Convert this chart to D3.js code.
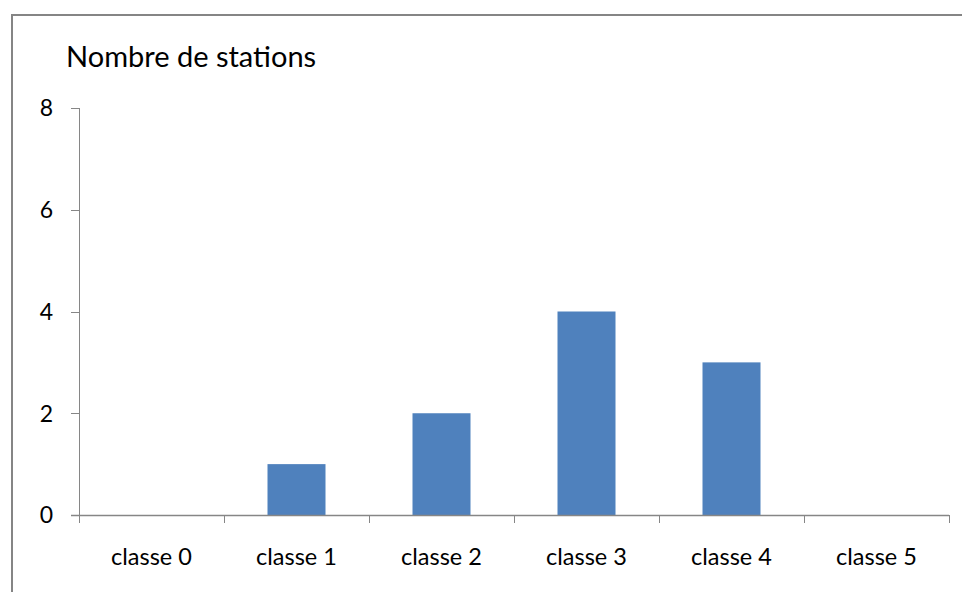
<!DOCTYPE html>
<html><head><meta charset="utf-8">
<script src="https://cdn.jsdelivr.net/npm/d3@7"></script>
<style>body{margin:0;background:#fff}svg{display:block}text{font-family:Lato,"Open Sans",sans-serif;fill:#000}</style>
</head><body>
<script>
const categories = ["classe 0","classe 1","classe 2","classe 3","classe 4","classe 5"];
const values = [0,1,2,4,3,0];
const yTicks = [0,2,4,6,8];
const yTitle = "Nombre de stations";

const W=962,H=592;
const svg=d3.select("body").append("svg").attr("width",W).attr("height",H);
svg.append("rect").attr("x",12).attr("y",15).attr("width",W).attr("height",H).attr("fill","#fff").attr("stroke","#858585").attr("stroke-width",2);

const x=d3.scaleBand().domain(categories).range([79,949]).paddingInner(0.6).paddingOuter(0.3);
const xb=d3.scaleBand().domain(categories).range([79,949]);
const y=d3.scaleLinear().domain([0,8]).range([515,108]);

const g=svg.append("g");
g.append("line").attr("x1",79.5).attr("x2",79.5).attr("y1",108).attr("y2",515).attr("stroke","#868686").attr("stroke-width",1);
g.selectAll(".yt").data(yTicks).join("line").attr("x1",71).attr("x2",79).attr("y1",d=>Math.round(y(d))+0.5).attr("y2",d=>Math.round(y(d))+0.5).attr("stroke","#868686");
g.selectAll(".yl").data(yTicks).join("text").attr("x",53).attr("y",d=>y(d)).attr("dy","0.36em").attr("text-anchor","end").attr("font-size",23).text(d=>d);

g.selectAll(".bar").data(values).join("rect").attr("x",(d,i)=>x(categories[i])).attr("width",x.bandwidth()).attr("y",d=>y(d)).attr("height",d=>515-y(d)).attr("fill","#4F81BD");

g.append("line").attr("x1",71).attr("x2",949).attr("y1",515.5).attr("y2",515.5).attr("stroke","#868686").attr("stroke-width",1.5);
const xt=[...categories.map(c=>xb(c)),949];
g.selectAll(".xt").data(xt).join("line").attr("x1",d=>Math.round(d)+0.5).attr("x2",d=>Math.round(d)+0.5).attr("y1",515).attr("y2",523).attr("stroke","#868686");
g.selectAll(".xl").data(categories).join("text").attr("x",d=>xb(d)+xb.bandwidth()/2).attr("y",565).attr("text-anchor","middle").attr("font-size",23.5).attr("fill","#222").text(d=>d);

svg.append("text").attr("x",66).attr("y",67).attr("font-size",29).text(yTitle);
</script>
</body></html>
